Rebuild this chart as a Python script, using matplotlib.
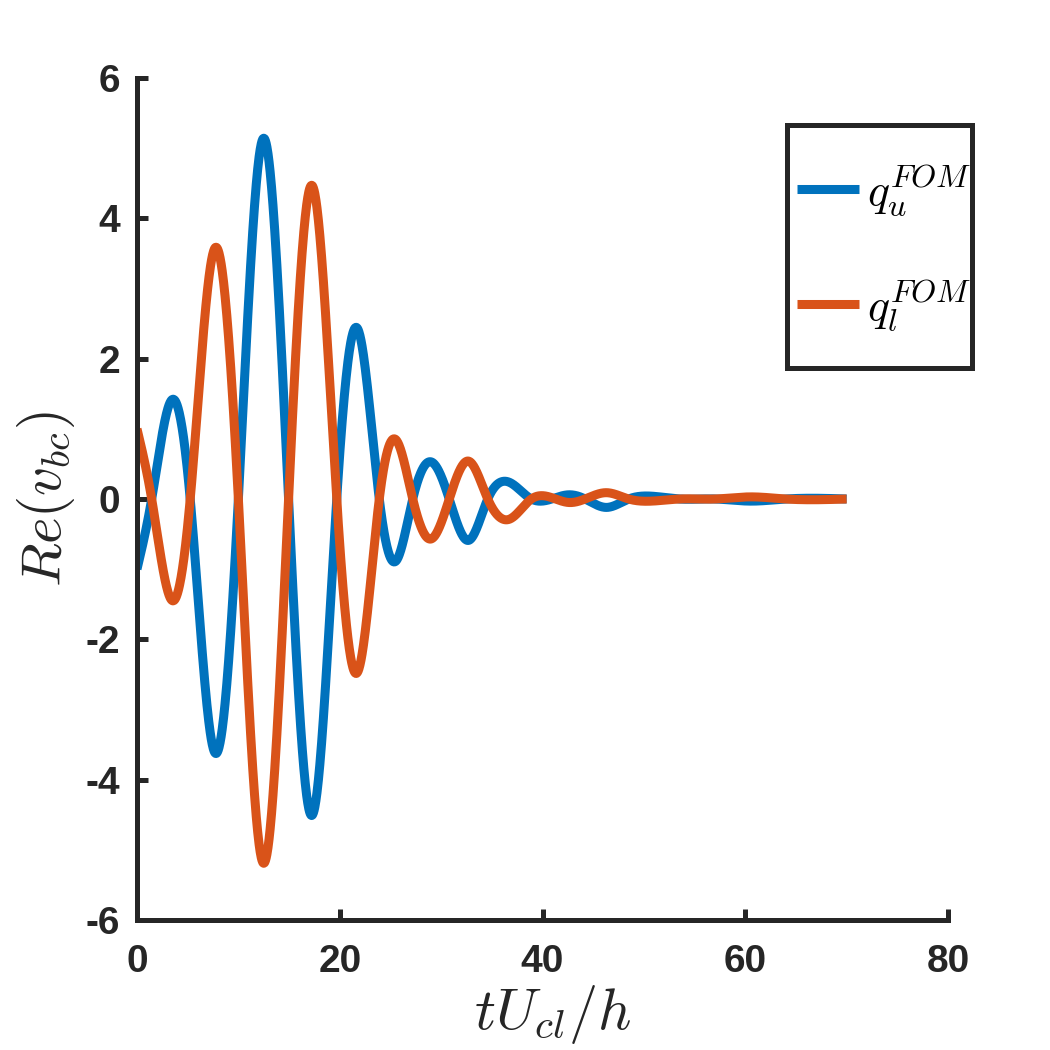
import numpy as np
import matplotlib
matplotlib.use("Agg")
import matplotlib.pyplot as plt
from matplotlib.patches import Rectangle

# ---- data (extrema and zero crossings) ----
t_knots = [0.0, 1.45, 3.5, 5.25, 7.7, 10.0, 12.47, 14.95, 17.25, 19.7, 21.7, 23.9,
           25.5, 27.2, 29.0, 30.8, 32.7, 34.6, 36.7, 38.9, 42.6, 44.2, 46.3, 48.5,
           50.8, 53.5, 57.0, 60.4, 64.0, 70.0]
q_u = [-1.0, 0.0, 1.42, 0.0, -3.62, 0.0, 5.14, 0.0, -4.51, 0.0, 2.44, 0.0,
       -0.89, 0.0, 0.53, 0.0, -0.59, 0.0, 0.24, 0.0, 0.06, 0.0, -0.12, 0.0,
       0.04, 0.0, 0.0, -0.03, 0.0, 0.0]
q_l = [1.0, 0.0, -1.45, 0.0, 3.58, 0.0, -5.19, 0.0, 4.47, 0.0, -2.48, 0.0,
       0.85, 0.0, -0.57, 0.0, 0.54, 0.0, -0.29, 0.0, -0.05, 0.0, 0.09, 0.0,
       -0.03, 0.0, 0.0, 0.03, 0.0, 0.0]
labels = [r'$q_u^{FOM}$', r'$q_l^{FOM}$']
xticks = [0, 20, 40, 60, 80]
yticks = [-6, -4, -2, 0, 2, 4, 6]


def smooth_line(x, y, n=2000):
    """Natural cubic spline through the read points (for drawing a smooth line)."""
    x = np.asarray(x, float)
    y = np.asarray(y, float)
    m = len(x)
    h = np.diff(x)
    A = np.zeros((m, m))
    r = np.zeros(m)
    A[0, 0] = A[-1, -1] = 1.0
    for i in range(1, m - 1):
        A[i, i - 1] = h[i - 1]
        A[i, i] = 2 * (h[i - 1] + h[i])
        A[i, i + 1] = h[i]
        r[i] = 6 * ((y[i + 1] - y[i]) / h[i] - (y[i] - y[i - 1]) / h[i - 1])
    M = np.linalg.solve(A, r)
    xs = np.linspace(x[0], x[-1], n)
    idx = np.clip(np.searchsorted(x, xs) - 1, 0, m - 2)
    x0, x1 = x[idx], x[idx + 1]
    hh = x1 - x0
    a = (x1 - xs) / hh
    b = (xs - x0) / hh
    ys = (a * y[idx] + b * y[idx + 1]
          + ((a ** 3 - a) * M[idx] + (b ** 3 - b) * M[idx + 1]) * hh ** 2 / 6)
    return xs, ys


plt.rcParams['mathtext.fontset'] = 'cm'
dark = '#262626'
blue = '#0072BD'
orange = '#D95319'

W = 1050.0
fig = plt.figure(figsize=(10.5, 10.5), dpi=100)
ax = fig.add_axes([137 / W, 1 - 920 / W, (948 - 137) / W, (920 - 78) / W])

handles = []
for vals, col, lab in [(q_u, blue, labels[0]), (q_l, orange, labels[1])]:
    xs, ys = smooth_line(t_knots, vals)
    h, = ax.plot(xs, ys, color=col, lw=6.5, label=lab, solid_capstyle='butt')
    handles.append(h)

ax.set_xlim(0, 80)
ax.set_ylim(-6, 6)
ax.set_xticks(xticks)
ax.set_yticks(yticks)
ax.set_xticklabels([str(v) for v in xticks])
ax.set_yticklabels([str(v) for v in yticks])
for s in ['top', 'right']:
    ax.spines[s].set_visible(False)
for s in ['left', 'bottom']:
    ax.spines[s].set_linewidth(3.6)
    ax.spines[s].set_color(dark)
ax.tick_params(direction='in', length=8, width=3.6, color=dark, labelcolor=dark,
               labelsize=28)
ax.tick_params(axis='x', pad=17)
ax.tick_params(axis='y', pad=12)
for lbl in ax.get_xticklabels() + ax.get_yticklabels():
    lbl.set_fontfamily('Liberation Sans')
    lbl.set_fontweight('bold')

ax.set_xlabel(r'$tU_{cl}/h$', fontsize=42, color=dark)
ax.xaxis.set_label_coords(0.512, -0.075)
ax.xaxis.label.set_va('top')
ax.set_ylabel(r'$Re(v_{bc})$', fontsize=41, color=dark, labelpad=6)

# legend frame (MATLAB-style box) and legend contents
frame = Rectangle((787 / W, 1 - 368 / W), 185 / W, 243 / W, transform=fig.transFigure,
                  facecolor='white', edgecolor=dark, lw=3.6, zorder=4)
fig.patches.append(frame)
leg = fig.legend(handles=handles, labels=labels, loc='center',
                 bbox_to_anchor=(884 / W, 1 - 249 / W),
                 bbox_transform=fig.transFigure, fontsize=33, frameon=False,
                 handlelength=1.36, handletextpad=0.17,
                 labelspacing=1.3, borderpad=0, borderaxespad=0)
leg.set_zorder(5)

fig.savefig('out.png', dpi=100, facecolor='white')
